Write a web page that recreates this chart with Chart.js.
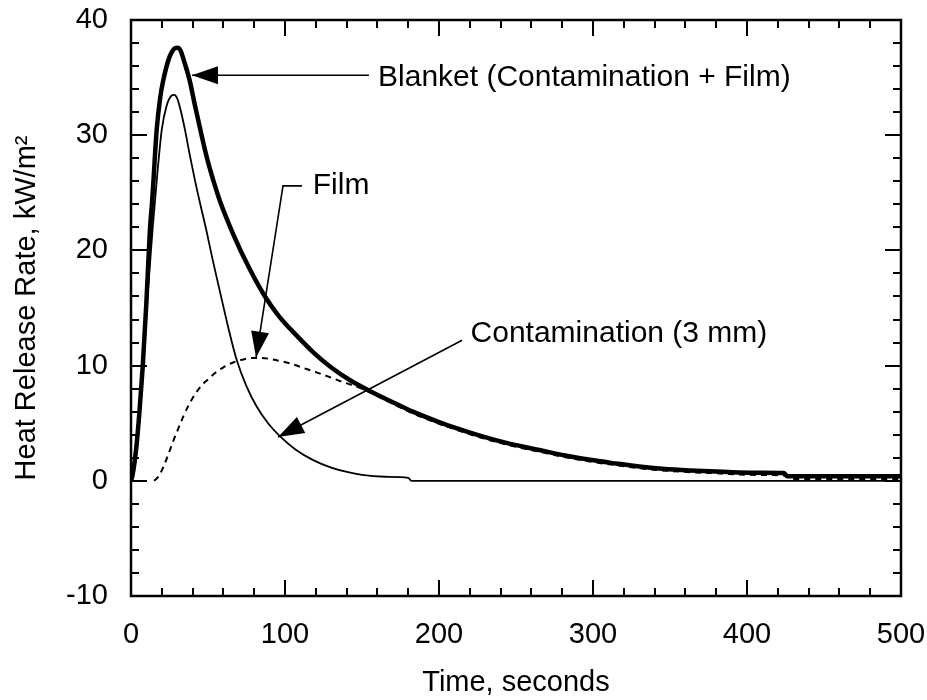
<!DOCTYPE html>
<html>
<head>
<meta charset="utf-8">
<script src="https://cdn.jsdelivr.net/npm/chart.js@4.4.0/dist/chart.umd.min.js"></script>
<style>
    html, body { margin: 0; padding: 0; background: #fff; }
    #wrap { width: 927px; height: 700px; }
</style>
</head>
<body>
<div id="wrap"><canvas id="hrr_chart"></canvas></div>
<script>
// values (time in s, heat release rate in kW/m2)
const blanket_t = [0, 1, 3.3, 5.5, 7.6, 10, 12.3, 13.8, 16.7, 19, 21, 25, 28, 30, 32, 35, 38, 41.5, 45, 49, 53.4, 58, 66.4, 77, 87, 96, 107.6, 118, 129, 142, 155, 168, 183, 200, 213, 227, 245, 266, 282, 298, 315, 330, 345, 363, 380, 395, 410, 424, 426, 460, 500];
const blanket_hrr = [0, 0.5, 2.7, 6, 9.9, 15.5, 21.8, 24.4, 30.5, 33.3, 34.8, 36.8, 37.5, 37.6, 37.4, 36.2, 34.8, 32.6, 30.5, 28.2, 26.1, 24.2, 21.4, 18.4, 16.0, 14.3, 12.6, 11.2, 9.95, 8.75, 7.8, 6.95, 6.0, 5.1, 4.5, 3.9, 3.25, 2.65, 2.2, 1.82, 1.5, 1.24, 1.05, 0.9, 0.8, 0.72, 0.7, 0.68, 0.4, 0.4, 0.4];

const film_t = [0, 2, 5, 8, 11, 14, 17, 20, 23, 26, 28, 30, 32, 35, 38, 41.5, 45, 49, 53, 57.8, 63, 68.6, 75, 81.6, 89, 96.8, 107, 118, 130, 150, 165, 180, 182, 500];
const film_hrr = [0, 0.8, 4.5, 10, 16.5, 21.8, 26.5, 30.5, 32.5, 33.4, 33.5, 33.2, 32.3, 30.5, 28.4, 26.1, 24, 21.7, 19.2, 16.4, 13.4, 10.5, 8.2, 6.45, 5, 3.85, 2.7, 1.82, 1.15, 0.52, 0.35, 0.26, 0, 0];

const contam_t = [15, 18, 21, 24, 27, 30, 34, 38, 42, 46, 50, 55, 60, 66, 72, 78, 85, 95, 103, 114, 125, 137, 149, 160, 183, 200, 213, 227, 245, 266, 282, 298, 315, 330, 345, 363, 380, 395, 410, 424, 430, 500];
const contam_hrr = [0, 0.4, 1.2, 2.2, 3.3, 4.3, 5.6, 6.7, 7.6, 8.3, 8.8, 9.4, 9.85, 10.25, 10.5, 10.65, 10.65, 10.45, 10.2, 9.7, 9.2, 8.6, 8.05, 7.35, 5.85, 4.95, 4.35, 3.75, 3.1, 2.5, 2.05, 1.67, 1.35, 1.1, 0.9, 0.75, 0.65, 0.55, 0.5, 0.45, 0.15, 0.15];

const x_ticks = [0, 100, 200, 300, 400, 500];
const y_ticks = [-10, 0, 10, 20, 30, 40];
const x_minor_step = 20;
const y_minor_step = 2;

function to_points(xs, ys) {
    return xs.map((x, i) => ({ x: x, y: ys[i] }));
}

const font_family = "'Liberation Sans', Arial, sans-serif";
const font_axis = { family: font_family, size: 29 };
const font_note = { family: font_family, size: 30 };

// callouts, placed in data units
const callouts = [
    { text: "Blanket (Contamination + Film)", at: [160.4, 35.0], path: [[154.5, 35.2], [39.6, 35.2]] },
    { text: "Film", at: [118, 25.6], path: [[111, 25.6], [98.7, 25.6], [81.2, 10.7]] },
    { text: "Contamination (3 mm)", at: [220.5, 12.8], path: [[215, 12.2], [95.5, 3.8]] }
];

function arrow_head(ctx, x0, y0, x1, y1) {
    const ang = Math.atan2(y1 - y0, x1 - x0);
    const len = 26, half = 9;
    ctx.beginPath();
    ctx.moveTo(x1, y1);
    ctx.lineTo(x1 - len * Math.cos(ang) + half * Math.sin(ang), y1 - len * Math.sin(ang) - half * Math.cos(ang));
    ctx.lineTo(x1 - len * Math.cos(ang) - half * Math.sin(ang), y1 - len * Math.sin(ang) + half * Math.cos(ang));
    ctx.closePath();
    ctx.fill();
}

const frame_plugin = {
    id: "frame_plugin",
    afterDatasetsDraw(chart) {
        const ctx = chart.ctx;
        const area = chart.chartArea;
        const xs = chart.scales.x, ys = chart.scales.y;
        ctx.save();
        ctx.strokeStyle = "#000";
        ctx.fillStyle = "#000";

        // inward ticks on all four sides
        ctx.lineWidth = 2;
        ctx.beginPath();
        for (let v = xs.min; v <= xs.max; v += x_minor_step) {
            const px = Math.round(xs.getPixelForValue(v));
            const len = x_ticks.includes(v) ? 16 : 8;
            ctx.moveTo(px, area.bottom); ctx.lineTo(px, area.bottom - len);
            ctx.moveTo(px, area.top); ctx.lineTo(px, area.top + len);
        }
        for (let v = ys.min; v <= ys.max; v += y_minor_step) {
            const py = Math.round(ys.getPixelForValue(v));
            const len = y_ticks.includes(v) ? 16 : 8;
            ctx.moveTo(area.left, py); ctx.lineTo(area.left + len, py);
            ctx.moveTo(area.right, py); ctx.lineTo(area.right - len, py);
        }
        ctx.stroke();

        ctx.lineWidth = 2.5;
        ctx.strokeRect(area.left, area.top, area.right - area.left, area.bottom - area.top);

        // callouts
        ctx.lineWidth = 1.6;
        ctx.font = font_note.size + "px " + font_note.family;
        ctx.textBaseline = "middle";
        ctx.textAlign = "left";
        callouts.forEach(c => {
            const pts = c.path.map(p => [xs.getPixelForValue(p[0]), ys.getPixelForValue(p[1])]);
            ctx.beginPath();
            ctx.moveTo(pts[0][0], pts[0][1]);
            for (let i = 1; i < pts.length; i++) ctx.lineTo(pts[i][0], pts[i][1]);
            ctx.stroke();
            const a = pts[pts.length - 2], b = pts[pts.length - 1];
            arrow_head(ctx, a[0], a[1], b[0], b[1]);
            ctx.fillText(c.text, xs.getPixelForValue(c.at[0]), ys.getPixelForValue(c.at[1]));
        });
        ctx.restore();
    }
};

const hrr_chart = new Chart(document.getElementById("hrr_chart"), {
    type: "scatter",
    data: {
        datasets: [
            {
                label: "Blanket (Contamination + Film)",
                data: to_points(blanket_t, blanket_hrr),
                showLine: true,
                borderColor: "#000",
                borderWidth: 4.5,
                pointRadius: 0,
                cubicInterpolationMode: "monotone"
            },
            {
                label: "Film",
                data: to_points(film_t, film_hrr),
                showLine: true,
                borderColor: "#000",
                borderWidth: 1.8,
                pointRadius: 0,
                cubicInterpolationMode: "monotone"
            },
            {
                label: "Contamination (3 mm)",
                data: to_points(contam_t, contam_hrr),
                showLine: true,
                borderColor: "#000",
                borderWidth: 2,
                borderDash: [6, 5],
                pointRadius: 0,
                cubicInterpolationMode: "monotone"
            }
        ]
    },
    options: {
        responsive: true,
        maintainAspectRatio: false,
        animation: false,
        devicePixelRatio: 1,
        layout: { padding: { left: 0, right: 26, top: 20, bottom: 0 } },
        plugins: {
            legend: { display: false },
            tooltip: { enabled: false }
        },
        scales: {
            x: {
                type: "linear",
                min: 0,
                max: 500,
                afterBuildTicks: s => { s.ticks = x_ticks.map(v => ({ value: v })); },
                afterFit: s => { s.height = 104; s.paddingLeft = 0; s.paddingRight = 0; },
                grid: { display: false, drawTicks: false },
                border: { display: false },
                ticks: { font: font_axis, color: "#000", padding: 22, maxRotation: 0 },
                title: { display: true, text: "Time, seconds", font: font_axis, color: "#000", padding: { top: 0, bottom: 0 } }
            },
            y: {
                type: "linear",
                min: -10,
                max: 40,
                afterBuildTicks: s => { s.ticks = y_ticks.map(v => ({ value: v })); },
                afterFit: s => { s.width = 131; s.paddingTop = 0; s.paddingBottom = 0; },
                grid: { display: false, drawTicks: false },
                border: { display: false },
                ticks: { font: font_axis, color: "#000", padding: 23 },
                title: { display: true, text: "Heat Release Rate, kW/m²", font: font_axis, color: "#000", padding: { top: 10, bottom: 0 } }
            }
        }
    },
    plugins: [frame_plugin]
});
</script>
</body>
</html>
